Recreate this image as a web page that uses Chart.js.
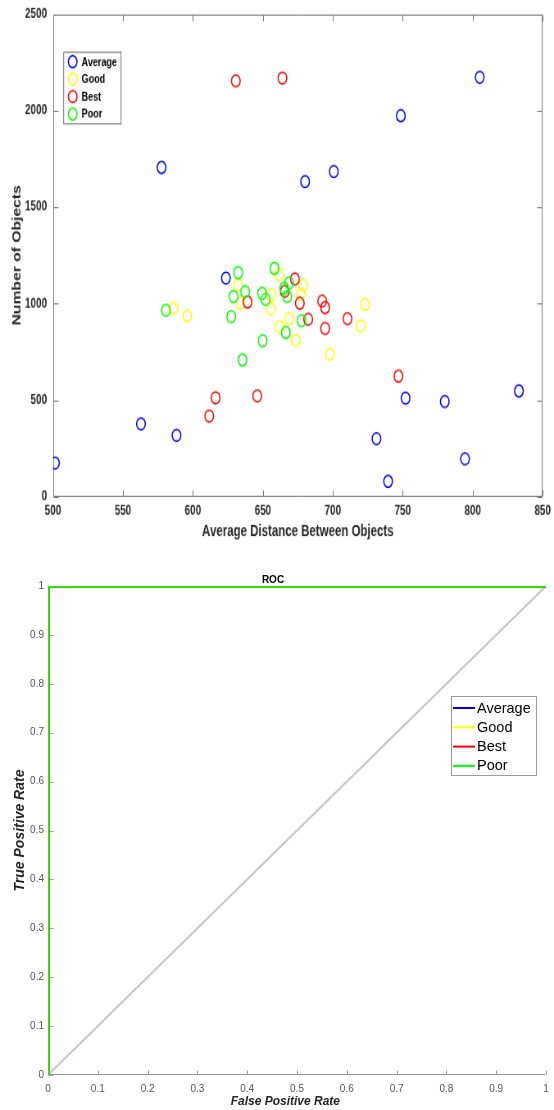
<!DOCTYPE html>
<html lang="en">
<head>
    <meta charset="UTF-8">
    <title>Objects scatter and ROC</title>
    <script src="https://cdn.jsdelivr.net/npm/chart.js"></script>
    <style>
        body {
            margin: 0;
            background-color: #fff;
        }
        canvas {
            display: block;
        }
    </style>
</head>
<body>
    <!-- the scatter figure is drawn at its own size and squeezed like the exported picture -->
    <canvas id="scatter" width="676" height="487" style="width:554px;height:545px"></canvas>
    <canvas id="roc" width="554" height="565" style="width:554px;height:565px"></canvas>

    <script>
        // Scatter data
        const classNames = ['Average', 'Good', 'Best', 'Poor'];
        const classColors = ['#0000ff', '#ffff00', '#ff0000', '#00ff00'];

        const avgX = [501.4, 577.6, 562.9, 588.3, 623.6, 680.2, 700.7, 748.6, 805, 731.2, 739.5, 752, 780, 794.5, 833];
        const avgY = [174, 1705, 377, 317, 1132, 1632, 1684, 1973, 2172, 300, 79, 510, 493, 196, 547];

        const goodX = [586, 596, 632.4, 634, 661.6, 656, 655.9, 678.8, 677, 668.8, 662, 673.6, 697.9, 723.1, 720];
        const goodY = [976, 936, 1096, 1001, 1151, 1044, 972, 1096, 1048, 922, 880, 809, 738, 995, 884];

        const bestX = [630.7, 664, 616.2, 611.7, 646, 639, 672.9, 665.7, 676.4, 682.4, 692.4, 694.5, 694.5, 710.5, 746.9];
        const bestY = [2154, 2168, 512, 417, 522, 1008, 1127, 1064, 1002, 919, 1013, 979, 871, 922, 624];

        const poorX = [580.7, 632.4, 629, 637.4, 627.4, 649.5, 652, 658.3, 668.8, 665.2, 667.4, 677.6, 666.4, 649.8, 635.5];
        const poorY = [965, 1160, 1036, 1062, 932, 1053, 1022, 1182, 1107, 1079, 1036, 912, 850, 807, 708];

        // ROC data
        const rocFpr = [0, 0, 1];
        const rocTpr = [0, 1, 1];
        const chanceFpr = [0, 1];
        const chanceTpr = [0, 1];

        const toPoints = (xs, ys) => xs.map((x, i) => ({ x: x, y: ys[i] }));

        // MATLAB-style frame with inward ticks
        const frameTicks = {
            id: 'frameTicks',
            beforeDatasetsDraw(chart, args, opts) {
                const { ctx, chartArea: a, scales } = chart;
                ctx.save();
                ctx.strokeStyle = opts.color;
                ctx.lineWidth = 1;
                ctx.beginPath();
                const L = Math.round(a.left) + 0.5, R = Math.round(a.right) - 0.5;
                const T = Math.round(a.top) + 0.5, B = Math.round(a.bottom) - 0.5;
                ctx.moveTo(L, T); ctx.lineTo(L, B); ctx.lineTo(R, B);
                if (opts.box) { ctx.lineTo(R, T); ctx.lineTo(L, T); }
                scales.x.ticks.forEach(t => {
                    const px = Math.round(scales.x.getPixelForValue(t.value)) + 0.5;
                    ctx.moveTo(px, B); ctx.lineTo(px, B - opts.tickLenX);
                    if (opts.box) { ctx.moveTo(px, T); ctx.lineTo(px, T + opts.tickLenX); }
                });
                scales.y.ticks.forEach(t => {
                    const py = Math.round(scales.y.getPixelForValue(t.value)) + 0.5;
                    ctx.moveTo(L, py); ctx.lineTo(L + opts.tickLenY, py);
                    if (opts.box) { ctx.moveTo(R, py); ctx.lineTo(R - opts.tickLenY, py); }
                });
                ctx.stroke();
                ctx.restore();
            }
        };

        // Boxed legend drawn inside the plot area
        const boxLegend = {
            id: 'boxLegend',
            afterDraw(chart, args, opts) {
                const { ctx, chartArea: a } = chart;
                const x = opts.right ? a.right - opts.right - opts.width : a.left + opts.left;
                const y = a.top + opts.top;
                ctx.save();
                ctx.fillStyle = '#fff';
                ctx.strokeStyle = opts.border;
                ctx.lineWidth = 1;
                ctx.fillRect(x + 0.5, y + 0.5, opts.width, opts.height);
                ctx.strokeRect(x + 0.5, y + 0.5, opts.width, opts.height);
                ctx.font = opts.font;
                ctx.textBaseline = 'middle';
                ctx.fillStyle = '#000';
                opts.items.forEach((item, i) => {
                    const cy = y + opts.firstRow + i * opts.rowStep;
                    ctx.strokeStyle = item.color;
                    if (opts.marker === 'circle') {
                        ctx.lineWidth = 1.5;
                        ctx.beginPath();
                        ctx.arc(x + opts.markerX, cy, 5.3, 0, Math.PI * 2);
                        ctx.stroke();
                    } else {
                        ctx.lineWidth = 2;
                        ctx.beginPath();
                        ctx.moveTo(x + 2, cy);
                        ctx.lineTo(x + 24, cy);
                        ctx.stroke();
                    }
                    ctx.fillText(item.label, x + opts.textX, cy + 0.5);
                });
                ctx.restore();
            }
        };

        Chart.register(frameTicks, boxLegend);

        const arial = 'Liberation Sans, Arial, sans-serif';

        // keep the plot area where the layout padding puts it
        const noOverflow = s => {
            s.paddingLeft = 0; s.paddingRight = 0;
            s.paddingTop = 0; s.paddingBottom = 0;
        };

        // ---- Scatter chart ----
        const scatterSets = [
            [avgX, avgY], [goodX, goodY], [bestX, bestY], [poorX, poorY]
        ].map((d, i) => ({
            label: classNames[i],
            data: toPoints(d[0], d[1]),
            borderColor: classColors[i],
            backgroundColor: 'rgba(0,0,0,0)',
            pointRadius: 5.3,
            pointBorderWidth: 1.5,
            order: 4 - i
        }));

        new Chart(document.getElementById('scatter'), {
            type: 'scatter',
            data: { datasets: scatterSets },
            options: {
                responsive: false,
                animation: false,
                events: [],
                layout: { padding: { top: 12.5, right: 13.8, left: 0, bottom: 0 } },
                plugins: {
                    legend: { display: false },
                    tooltip: { enabled: false },
                    frameTicks: { color: '#7a7a7a', tickLenX: 5.5, tickLenY: 6, box: true },
                    boxLegend: {
                        left: 12.6, top: 33.7, width: 70, height: 64,
                        firstRow: 8.9, rowStep: 15.6, markerX: 11.5, textX: 22.4,
                        border: '#6e6e6e', marker: 'circle',
                        font: 'bold 11px ' + arial,
                        items: classNames.map((n, i) => ({ label: n, color: classColors[i] }))
                    }
                },
                scales: {
                    x: {
                        type: 'linear',
                        min: 500, max: 850,
                        ticks: { stepSize: 50, padding: 6.2, color: '#262626', font: { family: arial, size: 12, weight: 'bold' }, callback: v => String(v) },
                        grid: { display: false, drawTicks: false },
                        border: { display: false },
                        title: { display: true, text: 'Average Distance Between Objects', color: '#262626', padding: { top: 0, bottom: 3.6 }, font: { family: arial, size: 14, weight: 'bold' } },
                        afterFit: s => { s.height = 43.25; noOverflow(s); }
                    },
                    y: {
                        type: 'linear',
                        min: 0, max: 2500,
                        ticks: { stepSize: 500, padding: 7.3, color: '#262626', font: { family: arial, size: 12, weight: 'bold' }, callback: v => String(v) },
                        grid: { display: false, drawTicks: false },
                        border: { display: false },
                        title: { display: true, text: 'Number of Objects', color: '#262626', padding: { top: 12.3, bottom: 0 }, font: { family: arial, size: 14, weight: 'bold' } },
                        afterFit: s => { s.width = 64.6; noOverflow(s); }
                    }
                }
            }
        });

        // ---- ROC chart ----
        const rocSets = [{
            label: 'chance',
            data: toPoints(chanceFpr, chanceTpr),
            borderColor: '#c8c8c8',
            borderWidth: 2,
            pointRadius: 0,
            order: 10
        }].concat(classNames.map((n, i) => ({
            label: n,
            data: toPoints(rocFpr, rocTpr),
            borderColor: classColors[i],
            borderWidth: 3,
            pointRadius: 0,
            order: 4 - i
        })));

        const rateLabel = v => String(Math.round(v * 10) / 10);

        new Chart(document.getElementById('roc'), {
            type: 'scatter',
            data: { datasets: rocSets },
            options: {
                responsive: false,
                animation: false,
                events: [],
                showLine: true,
                layout: { padding: { top: 0, right: 8, left: 0, bottom: 0 } },
                plugins: {
                    legend: { display: false },
                    tooltip: { enabled: false },
                    title: { display: true, text: 'ROC', color: '#000', padding: { top: 29, bottom: 0 }, font: { family: arial, size: 10, weight: 'bold' } },
                    frameTicks: { color: '#9a9a9a', tickLenX: 4, tickLenY: 5, box: false },
                    boxLegend: {
                        right: 10, top: 110, width: 85, height: 79,
                        firstRow: 12, rowStep: 19.3, textX: 26,
                        border: '#9a9a9a', marker: 'line',
                        font: '14.5px ' + arial,
                        items: classNames.map((n, i) => ({ label: n, color: classColors[i] }))
                    }
                },
                scales: {
                    x: {
                        type: 'linear',
                        min: 0, max: 1,
                        ticks: { stepSize: 0.1, padding: 8, color: '#555', font: { family: arial, size: 10 }, callback: rateLabel },
                        grid: { display: false, drawTicks: false },
                        border: { display: false },
                        // trailing spaces nudge the label left, as in the exported figure
                        title: { display: true, text: 'False Positive Rate       ', color: '#262626', padding: { top: 0, bottom: 1 }, font: { family: arial, size: 12, weight: 'bold', style: 'italic' } },
                        afterFit: s => { s.height = 35; noOverflow(s); }
                    },
                    y: {
                        type: 'linear',
                        min: 0, max: 1,
                        ticks: { stepSize: 0.1, padding: 4, color: '#555', font: { family: arial, size: 10 }, callback: rateLabel },
                        grid: { display: false, drawTicks: false },
                        border: { display: false },
                        title: { display: true, text: 'True Positive Rate', color: '#262626', padding: { top: 12, bottom: 0 }, font: { family: arial, size: 14, weight: 'bold', style: 'italic' } },
                        afterFit: s => { s.width = 48; noOverflow(s); }
                    }
                }
            }
        });
    </script>
</body>
</html>
